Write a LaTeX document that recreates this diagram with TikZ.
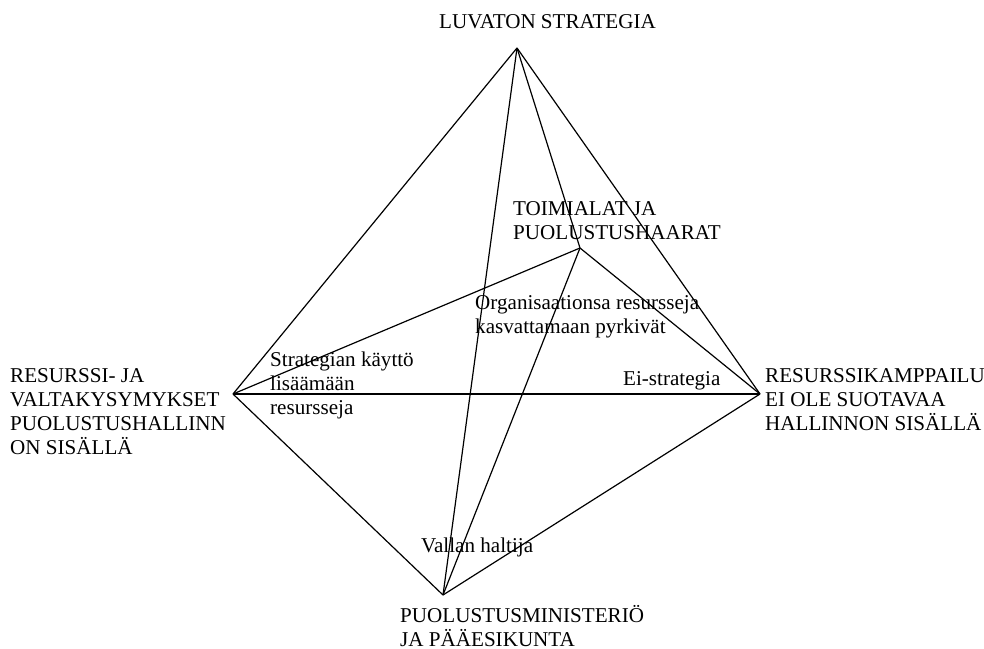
\documentclass[tikz,border=0pt]{standalone}
\usepackage{fontspec}
\setmainfont{Liberation Serif}
\begin{document}
\begin{tikzpicture}[x=1bp,y=-1bp,
  edge/.style={line width=1.2bp,black},
  lbl/.style={anchor=base west,inner sep=0pt,align=left,
    font=\fontsize{21.1bp}{23.7bp}\selectfont}]
\useasboundingbox (0,0) rectangle (984,649);
% corners of the pyramid
\coordinate (top) at (517,48);
\coordinate (left) at (233,394);
\coordinate (right) at (760,394);
\coordinate (bottom) at (443,595);
\coordinate (inner) at (580,248);
% edges
\draw[edge] (top) -- (left);
\draw[edge] (top) -- (right);
\draw[edge] (top) -- (bottom);
\draw[edge] (top) -- (inner);
\draw[edge] (left) -- (right);
\draw[edge] (left) -- (bottom);
\draw[edge] (bottom) -- (right);
\draw[edge] (left) -- (inner);
\draw[edge] (inner) -- (right);
\draw[edge] (inner) -- (bottom);
% corner labels (anchored at the baseline of the last line)
\node[lbl] (ltop) at (439,29) {LUVATON STRATEGIA};
\node[lbl] (lleft) at (10,454) {RESURSSI- JA\\VALTAKYSYMYKSET\\PUOLUSTUSHALLINN\\ON SISÄLLÄ};
\node[lbl] (lright) at (765,430) {RESURSSIKAMPPAILU\\EI OLE SUOTAVAA\\HALLINNON SISÄLLÄ};
\node[lbl] (lbottom) at (400,646) {PUOLUSTUSMINISTERIÖ\\JA PÄÄESIKUNTA};
\node[lbl] (linner) at (513,239) {TOIMIALAT JA\\PUOLUSTUSHAARAT};
% edge labels
\node[lbl] (lorg) at (475,333) {Organisaationsa resursseja\\kasvattamaan pyrkivät};
\node[lbl] (lstrat) at (270,414) {Strategian käyttö\\lisäämään\\resursseja};
\node[lbl] (lei) at (623,385) {Ei-strategia};
\node[lbl] (lvalta) at (421,552) {Vallan haltija};
\end{tikzpicture}
\end{document}
